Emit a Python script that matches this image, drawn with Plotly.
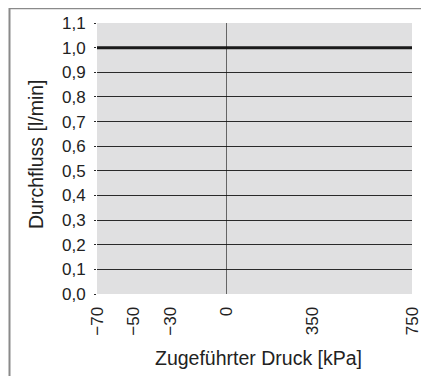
import plotly.graph_objects as go

# Data
x_neg_ticks = [-70, -50, -30, 0]
x_pos_ticks = [350, 750]
y_ticks = [0.0, 0.1, 0.2, 0.3, 0.4, 0.5, 0.6, 0.7, 0.8, 0.9, 1.0, 1.1]
flow_x_neg = [-70, 0]
flow_y_neg = [1.0, 1.0]
flow_x_pos = [0, 750]
flow_y_pos = [1.0, 1.0]
zero_pressure = 0

FONT = "Liberation Sans, Arial, sans-serif"
OFF = 8  # page body margin
W, H = 421, 368
L, R, T, B = 97 - OFF, 429 - 412, 23 - OFF, 376 - 294
pw = W - L - R
ph = H - T - B
split = 129 / pw


def px(xp):
    return (xp - OFF - L) / pw


def py(yp):
    return (H - B - (yp - OFF)) / ph


fig = go.Figure()
fig.add_trace(go.Scatter(x=flow_x_neg, y=flow_y_neg, mode="lines", xaxis="x", yaxis="y",
                         line=dict(color="#1a1a1a", width=3), showlegend=False, hoverinfo="skip"))
fig.add_trace(go.Scatter(x=flow_x_pos, y=flow_y_pos, mode="lines", xaxis="x2", yaxis="y",
                         line=dict(color="#1a1a1a", width=3), showlegend=False, hoverinfo="skip"))

common_x = dict(showgrid=False, zeroline=False, showline=False, tickangle=-90, automargin=False,
                tickfont=dict(family=FONT, size=17, color="#222"), ticks="outside",
                ticklen=5, tickcolor="rgba(0,0,0,0)", fixedrange=True)

fig.update_layout(
    width=W, height=H,
    margin=dict(l=L, r=R, t=T, b=B, autoexpand=False),
    paper_bgcolor="white", plot_bgcolor="#e0e0e1",
    separators=",.",
    font=dict(family=FONT, color="#222"),
    xaxis=dict(domain=[0, split], range=[-70, 0], tickvals=x_neg_ticks, anchor="y", **common_x),
    xaxis2=dict(domain=[split, 1], range=[0, 750], tickvals=x_pos_ticks, anchor="y", **common_x),
    yaxis=dict(range=[0, 1.1], tickvals=y_ticks, tickformat=".1f", showgrid=True, automargin=False,
               gridcolor="#2a2a2a", gridwidth=1, zeroline=False, showline=False,
               ticks="outside", ticklen=2, tickcolor="#2a2a2a", ticklabelstandoff=5,
               tickfont=dict(family=FONT, size=17, color="#222"), fixedrange=True),
    showlegend=False,
)

# vertical line at zero pressure
fig.add_shape(type="line", xref="x2", yref="y", x0=zero_pressure, x1=zero_pressure, y0=0, y1=1.1,
              line=dict(color="#111", width=1.2))

# outer frame (left edge visible)
fig.add_shape(type="line", xref="paper", yref="paper", x0=px(9.5), x1=px(9.5), y0=py(6), y1=py(376),
              line=dict(color="#8a8a8a", width=2))
fig.add_shape(type="line", xref="paper", yref="paper", x0=px(9), x1=px(429), y0=py(8.6), y1=py(8.6),
              line=dict(color="#8a8a8a", width=1.2))

fig.add_annotation(text="Zugeführter Druck [kPa]", xref="paper", yref="paper",
                   x=px(258), y=py(358), xanchor="center", yanchor="middle", showarrow=False,
                   font=dict(family=FONT, size=19.5, color="#222"))
fig.add_annotation(text="Durchfluss [l/min]", xref="paper", yref="paper", textangle=-90,
                   x=px(36), y=py(154), xanchor="center", yanchor="middle", showarrow=False,
                   font=dict(family=FONT, size=19.5, color="#222"))

fig.write_html("out.html")
